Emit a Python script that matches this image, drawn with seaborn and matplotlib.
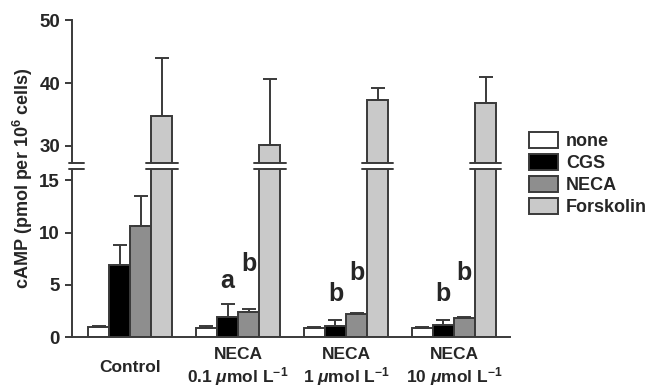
import numpy as np
import pandas as pd
import seaborn as sns
import matplotlib.pyplot as plt
from matplotlib.transforms import blended_transform_factory

# Values
groups = ['Control', 'NECA 0.1', 'NECA 1', 'NECA 10']
group_labels = ['Control',
                'NECA\n0.1 $\\mu$mol L$^{-1}$',
                'NECA\n1 $\\mu$mol L$^{-1}$',
                'NECA\n10 $\\mu$mol L$^{-1}$']
treatments = ['none', 'CGS', 'NECA', 'Forskolin']
none_mean = [1.0, 0.85, 0.9, 0.85]
none_err = [0.1, 0.25, 0.05, 0.1]
cgs_mean = [6.9, 1.95, 1.1, 1.15]
cgs_err = [1.95, 1.25, 0.5, 0.5]
neca_mean = [10.6, 2.4, 2.25, 1.8]
neca_err = [2.9, 0.3, 0.1, 0.1]
forsk_mean = [34.7, 30.2, 37.3, 36.8]
forsk_err = [9.2, 10.4, 1.9, 4.1]

# significance letters: (group, treatment, letter, y)
letters = [('NECA 0.1', 'CGS', 'a', 5.4), ('NECA 0.1', 'NECA', 'b', 7.0),
           ('NECA 1', 'CGS', 'b', 4.1), ('NECA 1', 'NECA', 'b', 6.1),
           ('NECA 10', 'CGS', 'b', 4.1), ('NECA 10', 'NECA', 'b', 6.1)]

colors = ['#ffffff', '#000000', '#8e8e8e', '#c9c9c9']
edge = '#3a3a3a'

means = [none_mean, cgs_mean, neca_mean, forsk_mean]
errs = [none_err, cgs_err, neca_err, forsk_err]
df = pd.DataFrame({
    'group': np.repeat([groups], 4, axis=0).ravel(),
    'treatment': np.repeat(treatments, len(groups)),
    'value': np.concatenate(means),
    'err': np.concatenate(errs),
})

sns.set_style('ticks')
plt.rcParams['font.family'] = ['Liberation Sans', 'DejaVu Sans']
plt.rcParams['font.weight'] = 'bold'
plt.rcParams['mathtext.fontset'] = 'custom'
plt.rcParams['mathtext.rm'] = 'Liberation Sans:bold'
plt.rcParams['mathtext.it'] = 'Liberation Sans:italic:bold'
plt.rcParams['mathtext.bf'] = 'Liberation Sans:bold'

fig = plt.figure(figsize=(6.59, 3.87), dpi=100)
ax_top = fig.add_axes([0.109, 0.579, 0.665, 0.369])
ax_bot = fig.add_axes([0.109, 0.129, 0.665, 0.435])

for ax in (ax_top, ax_bot):
    sns.barplot(data=df, x='group', y='value', hue='treatment', order=groups,
                hue_order=treatments, palette=colors, edgecolor=edge,
                linewidth=1.4, errorbar=None, width=0.78, ax=ax, legend=(ax is ax_bot))
    # upward error bars placed on the drawn bars
    for bars, tr in zip(ax.containers, treatments):
        sub = df[df['treatment'] == tr].set_index('group').loc[groups]
        xs = [b.get_x() + b.get_width() / 2 for b in bars]
        ax.errorbar(xs, sub['value'], yerr=[np.zeros(len(xs)), sub['err']],
                    fmt='none', ecolor=edge, elinewidth=1.4, capsize=5, capthick=1.4,
                    zorder=1)
    ax.set_xlim(-0.54, 3.52)
    ax.set_xlabel('')
    ax.set_ylabel('')
    sns.despine(ax=ax)
    for s in ax.spines.values():
        s.set_color(edge)
        s.set_linewidth(1.4)
    ax.tick_params(axis='y', labelsize=13.5, length=5, width=1.4, color=edge)

ax_top.set_ylim(27.3, 50)
ax_top.set_yticks([30, 40, 50])
ax_top.spines['bottom'].set_visible(False)
ax_top.set_xticks([])

ax_bot.set_ylim(0, 16.1)
ax_bot.set_yticks([0, 5, 10, 15])
ax_bot.set_xticks(range(len(groups)))
ax_bot.set_xticklabels(group_labels, fontsize=12.5, fontweight='bold', va='center',
                       linespacing=1.15)
ax_bot.tick_params(axis='x', length=0, pad=22)

# break marks across the axis and the forskolin bars
forsk_bars = ax_bot.containers[3]
segs = [(-0.54 - 0.03, -0.54 + 0.11)] + [(b.get_x() - 0.05, b.get_x() + b.get_width() + 0.05)
                                         for b in forsk_bars]
for ax, yy in ((ax_top, 0.0), (ax_bot, 1.0)):
    tr = blended_transform_factory(ax.transData, ax.transAxes)
    for x0, x1 in segs:
        ax.plot([x0, x1], [yy, yy], color=edge, lw=1.4, transform=tr, clip_on=False,
                zorder=5)
# white gap between the marks
trf = blended_transform_factory(ax_bot.transData, fig.transFigure)
for x0, x1 in segs:
    fig.patches.append(plt.Rectangle((x0, 0.5665), x1 - x0, 0.0105, transform=trf,
                                     facecolor='white', edgecolor='none', zorder=4))

# letters over bars
for g, t, s, yv in letters:
    bar = ax_bot.containers[treatments.index(t)][groups.index(g)]
    ax_bot.text(bar.get_x() + bar.get_width() / 2, yv, s, ha='center', va='center',
                fontsize=18, fontweight='bold')

fig.text(0.035, 0.54, 'cAMP (pmol per 10$^{6}$ cells)', rotation=90, ha='center',
         va='center', fontsize=13, fontweight='bold')

leg = ax_bot.legend_
leg.remove()
fig.legend(*ax_bot.get_legend_handles_labels(), loc='center left',
           bbox_to_anchor=(0.778, 0.55), frameon=False, fontsize=13,
           handlelength=1.6, handleheight=1.0, labelspacing=0.2, handletextpad=0.45)

fig.savefig('out.png', dpi=100)
